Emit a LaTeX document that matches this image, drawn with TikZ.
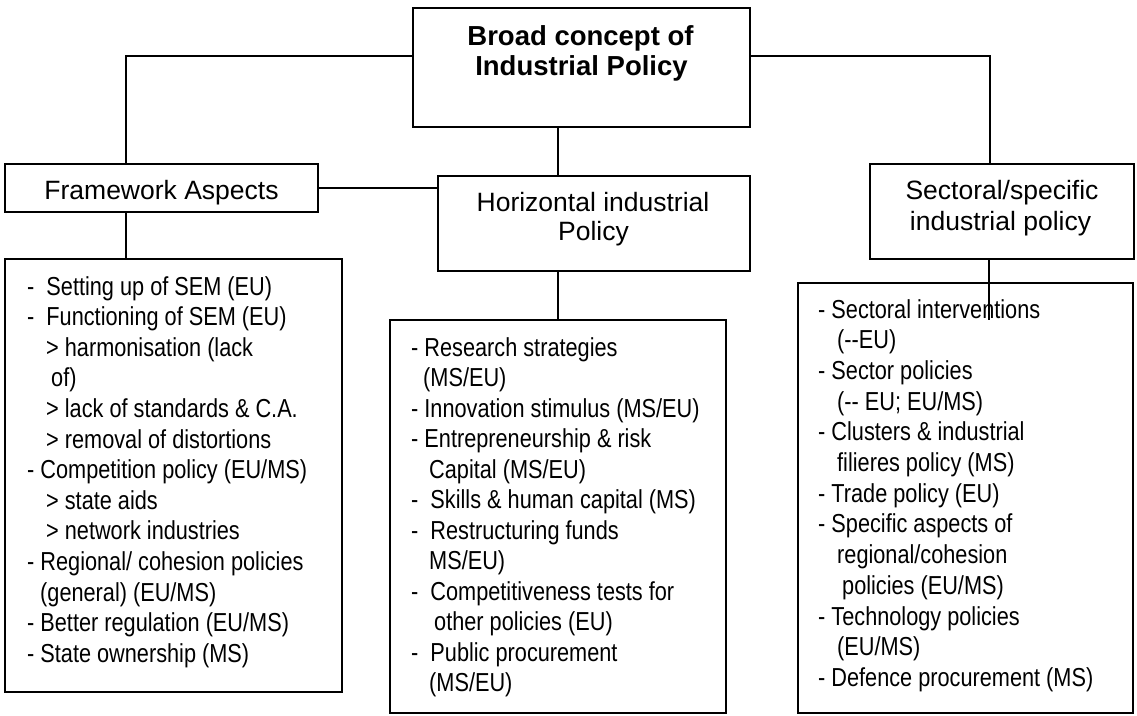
\documentclass[tikz,border=0pt]{standalone}
\usepackage{fontspec}
\setmainfont{Liberation Sans}
\newfontfamily\narrowfont[FakeStretch=0.835]{Liberation Sans}
\begin{document}
\begin{tikzpicture}[x=1pt,y=-1pt,
  box/.style={draw, line width=1.7pt, inner sep=0pt, outer sep=0pt, rectangle},
  conn/.style={line width=1.7pt},
  ttl/.style={font=\fontsize{26.5}{30}\selectfont, anchor=base, inner sep=0pt},
  btl/.style={font=\fontsize{27.5}{30}\selectfont\bfseries, anchor=base, inner sep=0pt},
  itm/.style={font=\narrowfont\fontsize{26}{30}\selectfont, anchor=base west, inner sep=0pt}]
\useasboundingbox (0,0) rectangle (1137,715);

% boxes
\node[box, minimum width=337pt, minimum height=119pt] (top) at (581.5,67.5) {};
\node[box, minimum width=313pt, minimum height=48pt] (fw) at (161.5,188) {};
\node[box, minimum width=312pt, minimum height=95pt] (hz) at (594,223.5) {};
\node[box, minimum width=264pt, minimum height=95pt] (sec) at (1002,211.5) {};
\node[box, minimum width=337pt, minimum height=433pt] (fwlist) at (173.5,475.5) {};
\node[box, minimum width=336pt, minimum height=393pt] (hzlist) at (558,516.5) {};
\node[box, minimum width=335pt, minimum height=430pt] (seclist) at (965.5,498) {};
\coordinate (secend) at (989,320);

% connectors
\draw[conn] ([yshift=11.5pt]top.west) -| ([xshift=-35.5pt]fw.north);
\draw[conn] (fw.east) -- (fw.east -| hz.west);
\draw[conn] ([xshift=-23.8pt]top.south) -- ([xshift=-23.8pt]top.south |- hz.north);
\draw[conn] (hzlist.north |- hz.south) -- (hzlist.north);
\draw[conn] ([yshift=11.5pt]top.east) -| ([xshift=-12pt]sec.north);
\draw[conn] ([xshift=-13pt]sec.south) -- (secend);
\draw[conn] ([xshift=-35.5pt]fw.south) -- ([xshift=-35.5pt]fw.south |- fwlist.north);

% titles
\node[btl] (t1) at (580.5,45) {Broad concept of};
\node[btl] (t2) at (581.5,75) {Industrial Policy};
\node[ttl] (f1) at (161.5,199) {Framework Aspects};
\node[ttl] (h1) at (593,211) {Horizontal industrial};
\node[ttl] (h2) at (593.5,240) {Policy};
\node[ttl] (s1) at (1002,199) {Sectoral/specific};
\node[ttl] (s2) at (1000.5,230) {industrial policy};

% framework list
\node[itm] (fa0) at (27,295) {-~~Setting up of SEM (EU)};
\node[itm] (fa1) at (27,325.6) {-~~Functioning of SEM (EU)};
\node[itm] (fa2) at (46,356.2) {> harmonisation (lack};
\node[itm] (fa3) at (51,386.8) {of)};
\node[itm] (fa4) at (46,417.4) {> lack of standards \& C.A.};
\node[itm] (fa5) at (46,448) {> removal of distortions};
\node[itm] (fa6) at (27,478.6) {- Competition policy (EU/MS)};
\node[itm] (fa7) at (46,509.2) {> state aids};
\node[itm] (fa8) at (46,539.8) {> network industries};
\node[itm] (fa9) at (27,570.4) {- Regional/ cohesion policies};
\node[itm] (fa10) at (40,601) {(general) (EU/MS)};
\node[itm] (fa11) at (27,631.6) {- Better regulation (EU/MS)};
\node[itm] (fa12) at (27,662.2) {- State ownership (MS)};

% horizontal list
\node[itm] (ha0) at (411,356) {- Research strategies};
\node[itm] (ha1) at (423,386.5) {(MS/EU)};
\node[itm] (ha2) at (411,417) {- Innovation stimulus (MS/EU)};
\node[itm] (ha3) at (411,447.5) {- Entrepreneurship \& risk};
\node[itm] (ha4) at (429,478) {Capital (MS/EU)};
\node[itm] (ha5) at (411,508.5) {-~~Skills \& human capital (MS)};
\node[itm] (ha6) at (411,539) {-~~Restructuring funds};
\node[itm] (ha7) at (429,569.5) {MS/EU)};
\node[itm] (ha8) at (411,600) {-~~Competitiveness tests for};
\node[itm] (ha9) at (434,630.5) {other policies (EU)};
\node[itm] (ha10) at (411,661) {-~~Public procurement};
\node[itm] (ha11) at (429,691.5) {(MS/EU)};

% sectoral list
\node[itm] (sa0) at (818,318) {- Sectoral interventions};
\node[itm] (sa1) at (837,348.7) {(-{}-EU)};
\node[itm] (sa2) at (818,379.4) {- Sector policies};
\node[itm] (sa3) at (837,410.1) {(-{}- EU; EU/MS)};
\node[itm] (sa4) at (818,440.8) {- Clusters \& industrial};
\node[itm] (sa5) at (837,471.5) {filieres policy (MS)};
\node[itm] (sa6) at (818,502.2) {- Trade policy (EU)};
\node[itm] (sa7) at (818,532.9) {- Specific aspects of};
\node[itm] (sa8) at (837,563.6) {regional/cohesion};
\node[itm] (sa9) at (842,594.3) {policies (EU/MS)};
\node[itm] (sa10) at (818,625) {- Technology policies};
\node[itm] (sa11) at (837,655.7) {(EU/MS)};
\node[itm] (sa12) at (818,686.4) {- Defence procurement (MS)};
\end{tikzpicture}
\end{document}
